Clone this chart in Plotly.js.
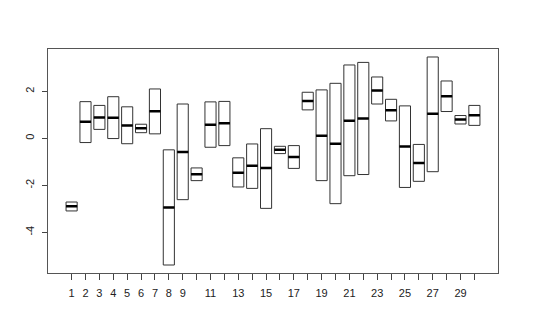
<!DOCTYPE html>
<html>
<head>
<meta charset="utf-8">
<script src="https://cdn.plot.ly/plotly-3.0.1.min.js"></script>
<style>html,body{margin:0;padding:0;background:#fff;}#chart{width:540px;height:335px;}</style>
</head>
<body>
<div id="chart"></div>
<script>
var groups = [1,2,3,4,5,6,7,8,9,10,11,12,13,14,15,16,17,18,19,20,21,22,23,24,25,26,27,28,29,30];
var q1Values = [-3.09,-0.18,0.38,-0.01,-0.23,0.24,0.19,-5.39,-2.61,-1.80,-0.38,-0.31,-2.07,-2.13,-2.98,-0.65,-1.28,1.21,-1.80,-2.78,-1.59,-1.54,1.46,0.74,-2.09,-1.83,-1.42,1.14,0.61,0.55];
var medianValues = [-2.89,0.70,0.89,0.87,0.55,0.43,1.15,-2.94,-0.58,-1.53,0.58,0.64,-1.46,-1.17,-1.26,-0.49,-0.79,1.59,0.11,-0.23,0.75,0.84,2.03,1.19,-0.35,-1.05,1.04,1.79,0.80,0.98];
var q3Values = [-2.71,1.56,1.40,1.77,1.34,0.60,2.10,-0.49,1.46,-1.26,1.55,1.57,-0.83,-0.24,0.41,-0.34,-0.31,1.96,2.06,2.34,3.12,3.23,2.61,1.66,1.38,-0.26,3.46,2.44,0.97,1.40];
var xTickLabels = ['1','2','3','4','5','6','7','8','9','','11','','13','','15','','17','','19','','21','','23','','25','','27','','29',''];
var yTickVals = [-4,-2,0,2];

var boxes = {
  type: 'box',
  x: groups,
  q1: q1Values,
  median: medianValues,
  q3: q3Values,
  lowerfence: q1Values,
  upperfence: q3Values,
  width: 0.8,
  whiskerwidth: 0,
  line: {color: '#333333', width: 1},
  fillcolor: 'rgba(255,255,255,0)',
  hoverinfo: 'skip',
  showlegend: false
};
var medians = {
  type: 'box',
  x: groups,
  q1: medianValues,
  median: medianValues,
  q3: medianValues,
  lowerfence: medianValues,
  upperfence: medianValues,
  width: 0.8,
  whiskerwidth: 0,
  line: {color: '#000000', width: 2.5},
  fillcolor: 'rgba(255,255,255,0)',
  hoverinfo: 'skip',
  showlegend: false
};

var layout = {
  width: 540, height: 335,
  margin: {l: 48, r: 42, t: 49, b: 62},
  paper_bgcolor: '#ffffff', plot_bgcolor: '#ffffff',
  boxmode: 'overlay',
  font: {family: 'Liberation Sans, Arial, sans-serif', size: 11, color: '#222222'},
  xaxis: {
    range: [-0.7, 31.7],
    tickvals: groups, ticktext: xTickLabels,
    ticks: 'outside', ticklen: 6, tickcolor: '#444444', tickwidth: 1,
    showline: true, linecolor: '#555555', linewidth: 1, mirror: true,
    showgrid: false, zeroline: false,
    tickangle: 0, ticklabelstandoff: 4
  },
  yaxis: {
    range: [-5.73, 3.80],
    tickvals: yTickVals, ticktext: ['-4','-2','0','2'],
    ticks: 'outside', ticklen: 5, tickcolor: '#444444', tickwidth: 1,
    showline: true, linecolor: '#555555', linewidth: 1, mirror: true,
    showgrid: false, zeroline: false,
    tickangle: -90, ticklabelstandoff: 4
  }
};
Plotly.newPlot('chart', [boxes, medians], layout, {staticPlot: true, displayModeBar: false});
</script>
</body>
</html>
